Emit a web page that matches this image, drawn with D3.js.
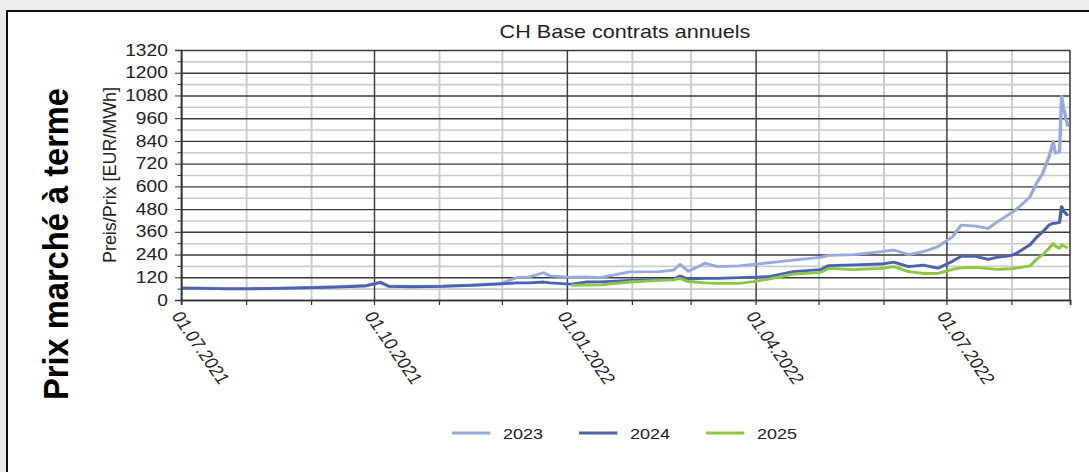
<!DOCTYPE html>
<html>
<head>
<meta charset="utf-8">
<script src="https://cdn.jsdelivr.net/npm/d3@7"></script>
<style>
html, body { margin: 0; padding: 0; background: #ececec; }
svg { display: block; font-family: "Liberation Sans", Arial, sans-serif; }
</style>
</head>
<body>
<svg id="chart" width="1089" height="472"></svg>
<script>
'use strict';

//------------------------------------------------------------
// data (EUR/MWh)
//------------------------------------------------------------
const dates = [
  "2021-07-01", "2021-07-12", "2021-07-23", "2021-08-03", "2021-08-16", "2021-08-30",
  "2021-09-13", "2021-09-27", "2021-10-04", "2021-10-08", "2021-10-20", "2021-11-03",
  "2021-11-17", "2021-12-01", "2021-12-08", "2021-12-14", "2021-12-21", "2021-12-24",
  "2022-01-03", "2022-01-10", "2022-01-17", "2022-01-31", "2022-02-14", "2022-02-21",
  "2022-02-24", "2022-02-28", "2022-03-08", "2022-03-14", "2022-03-24", "2022-03-31",
  "2022-04-08", "2022-04-19", "2022-05-02", "2022-05-06", "2022-05-18", "2022-05-31",
  "2022-06-06", "2022-06-13", "2022-06-20", "2022-06-27", "2022-07-04", "2022-07-08",
  "2022-07-15", "2022-07-21", "2022-07-25", "2022-08-01", "2022-08-04", "2022-08-10",
  "2022-08-13", "2022-08-16", "2022-08-19", "2022-08-21", "2022-08-22", "2022-08-24",
  "2022-08-25", "2022-08-26", "2022-08-28"
];

const cal2023 = [
  64, 63, 61, 61, 63, 66,
  71, 77, 95, 75, 72, 74,
  80, 88, 118, 122, 144, 127,
  120, 122, 118, 148, 150, 158,
  188, 152, 194, 176, 180, 188,
  197, 211, 225, 236, 240, 255,
  264, 240, 255, 282, 334, 395,
  390, 378, 410, 460, 484, 546,
  616, 669, 757, 836, 775, 780,
  1075, 1010, 915
];

const cal2024 = [
  62, 61, 59, 59, 61, 64,
  68, 74, 92, 72, 70, 72,
  77, 85, 90, 90, 95, 90,
  84, 95, 96, 104, 108, 111,
  127, 111, 114, 114, 118, 120,
  125, 150, 160, 182, 185, 190,
  200, 176, 184, 168, 205, 230,
  230, 215, 225, 235, 250, 292,
  330, 360, 396, 405, 405, 410,
  493, 470, 445
];

const cal2025 = [
  null, null, null, null, null, null,
  null, null, null, null, null, null,
  null, null, null, null, null, null,
  78, 79, 80, 95, 104, 106,
  114, 97, 90, 88, 88, 97,
  112, 137, 146, 167, 160, 167,
  176, 150, 140, 141, 162, 170,
  172, 166, 162, 165, 170, 180,
  215, 240, 273, 299, 285, 273,
  290, 285, 275
];

const seriesNames = ["2023", "2024", "2025"];
const seriesColors = ["#97aadb", "#4a63b0", "#8cc744"];
const yTicks = d3.range(0, 1321, 120);

{ // start scope

//------------------------------------------------------------
// layout (the whole picture is stretched 1.2x horizontally)
//------------------------------------------------------------
const sx = 1.2;
const plotLeft = 181 / sx, plotRight = 1070 / sx, plotTop = 50, plotBottom = 300;

const parse = d3.timeParse("%Y-%m-%d");
const series = [cal2023, cal2024, cal2025].map((vals, k) => ({
  name: seriesNames[k],
  color: seriesColors[k],
  points: dates.map((d, i) => ({ date: parse(d), value: vals[i] }))
}));

const x = d3.scaleTime()
  .domain([parse("2021-07-01"), parse("2022-08-29")])
  .range([plotLeft, plotRight]);
const y = d3.scaleLinear().domain([0, 1320]).range([plotBottom, plotTop]);

const svg = d3.select("#chart");

// white sheet with black frame
svg.append("rect")
  .attr("x", 7).attr("y", 11).attr("width", 1100).attr("height", 480)
  .attr("fill", "#ffffff").attr("stroke", "#111").attr("stroke-width", 2);

const g = svg.append("g").attr("transform", `scale(${sx},1)`);

// horizontal grid: light every 60, dark every 120
g.append("g")
  .attr("transform", `translate(${plotLeft},0)`)
  .call(d3.axisLeft(y).tickValues(d3.range(60, 1320, 120)).tickSize(-(plotRight - plotLeft)).tickFormat(""))
  .call(a => a.select(".domain").remove())
  .selectAll("line").attr("stroke", "#cbcbcb").attr("stroke-width", 1.6);

const months = d3.timeMonth.range(parse("2021-07-01"), parse("2022-08-29"));
const quarters = months.filter(d => d.getMonth() % 3 === 0);
const minorMonths = months.filter(d => d.getMonth() % 3 !== 0);

// vertical grid: light monthly, dark quarterly
g.append("g")
  .attr("transform", `translate(0,${plotBottom})`)
  .call(d3.axisBottom(x).tickValues(minorMonths).tickSize(-(plotBottom - plotTop)).tickFormat(""))
  .call(a => a.select(".domain").remove())
  .selectAll("line").attr("stroke", "#cbcbcb").attr("stroke-width", 1.6);

g.append("g")
  .attr("transform", `translate(${plotLeft},0)`)
  .call(d3.axisLeft(y).tickValues(yTicks).tickSize(-(plotRight - plotLeft)).tickFormat(""))
  .call(a => a.select(".domain").remove())
  .selectAll("line").attr("stroke", "#3a3a3a").attr("stroke-width", 1.4);

g.append("g")
  .attr("transform", `translate(0,${plotBottom})`)
  .call(d3.axisBottom(x).tickValues(quarters).tickSize(-(plotBottom - plotTop)).tickFormat(""))
  .call(a => a.select(".domain").remove())
  .selectAll("line").attr("stroke", "#3a3a3a").attr("stroke-width", 1.2);

// right border
g.append("line")
  .attr("x1", plotRight).attr("x2", plotRight).attr("y1", plotTop).attr("y2", plotBottom)
  .attr("stroke", "#3a3a3a").attr("stroke-width", 1.3);

// lines
const line = d3.line()
  .defined(d => d.value !== null)
  .x(d => x(d.date))
  .y(d => y(d.value));

g.append("g").selectAll("path")
  .data(series)
  .join("path")
  .attr("d", d => line(d.points))
  .attr("fill", "none")
  .attr("stroke", d => d.color)
  .attr("stroke-width", 2.8)
  .attr("stroke-linejoin", "round");

// y axis
const yAxis = g.append("g")
  .attr("transform", `translate(${plotLeft},0)`)
  .call(d3.axisLeft(y).tickValues(yTicks).tickSize(5).tickPadding(6).tickFormat(d3.format("d")));
yAxis.select(".domain").attr("stroke", "#333").attr("stroke-width", 1.5);
yAxis.selectAll("line").attr("stroke", "#333");
yAxis.selectAll("text").attr("font-size", 16).attr("fill", "#222")
  .attr("font-family", "\"Liberation Sans\", Arial, sans-serif");

g.append("g")
  .attr("transform", `translate(${plotLeft},0)`)
  .call(d3.axisLeft(y).tickValues(d3.range(60, 1320, 120)).tickSize(3).tickFormat(""))
  .call(a => a.select(".domain").remove())
  .selectAll("line").attr("stroke", "#333");

// x axis
const fmt = d3.timeFormat("%d.%m.%Y");
const xAxis = g.append("g")
  .attr("transform", `translate(0,${plotBottom})`)
  .call(d3.axisBottom(x).tickValues(months).tickSize(5)
    .tickFormat(d => d.getMonth() % 3 === 0 ? fmt(d) : ""));
xAxis.select(".domain").attr("stroke", "#333").attr("stroke-width", 1.5);
xAxis.selectAll("line").attr("stroke", "#333");
xAxis.selectAll("text")
  .attr("font-size", 16).attr("fill", "#222")
  .attr("font-family", "\"Liberation Sans\", Arial, sans-serif")
  .attr("x", 0).attr("y", 0).attr("dy", "0.35em")
  .attr("text-anchor", "start")
  .attr("transform", "translate(-4,13) rotate(60)");

// title
g.append("text")
  .attr("x", 625 / sx).attr("y", 38)
  .attr("text-anchor", "middle")
  .attr("font-size", 18).attr("fill", "#222")
  .text("CH Base contrats annuels");

// y axis title
g.append("text")
  .attr("transform", `translate(${116 / sx},175) rotate(-90)`)
  .attr("text-anchor", "middle")
  .attr("font-size", 15).attr("fill", "#222")
  .attr("textLength", 176).attr("lengthAdjust", "spacingAndGlyphs")
  .text("Preis/Prix [EUR/MWh]");

// slide caption
g.append("text")
  .attr("transform", `translate(${68 / sx},244) rotate(-90)`)
  .attr("text-anchor", "middle")
  .attr("font-size", 29).attr("font-weight", "bold").attr("fill", "#000")
  .attr("textLength", 312).attr("lengthAdjust", "spacingAndGlyphs")
  .text("Prix marché à terme");

// legend
const legend = g.append("g").selectAll("g")
  .data(series)
  .join("g")
  .attr("transform", (d, i) => `translate(${452 / sx + i * 105.8},433)`);
legend.append("line")
  .attr("x1", 0).attr("x2", 32)
  .attr("stroke", d => d.color).attr("stroke-width", 3);
legend.append("text")
  .attr("x", 42.5).attr("y", 5.5)
  .attr("font-size", 15).attr("fill", "#222")
  .text(d => d.name);

} // end scope
</script>
</body>
</html>
